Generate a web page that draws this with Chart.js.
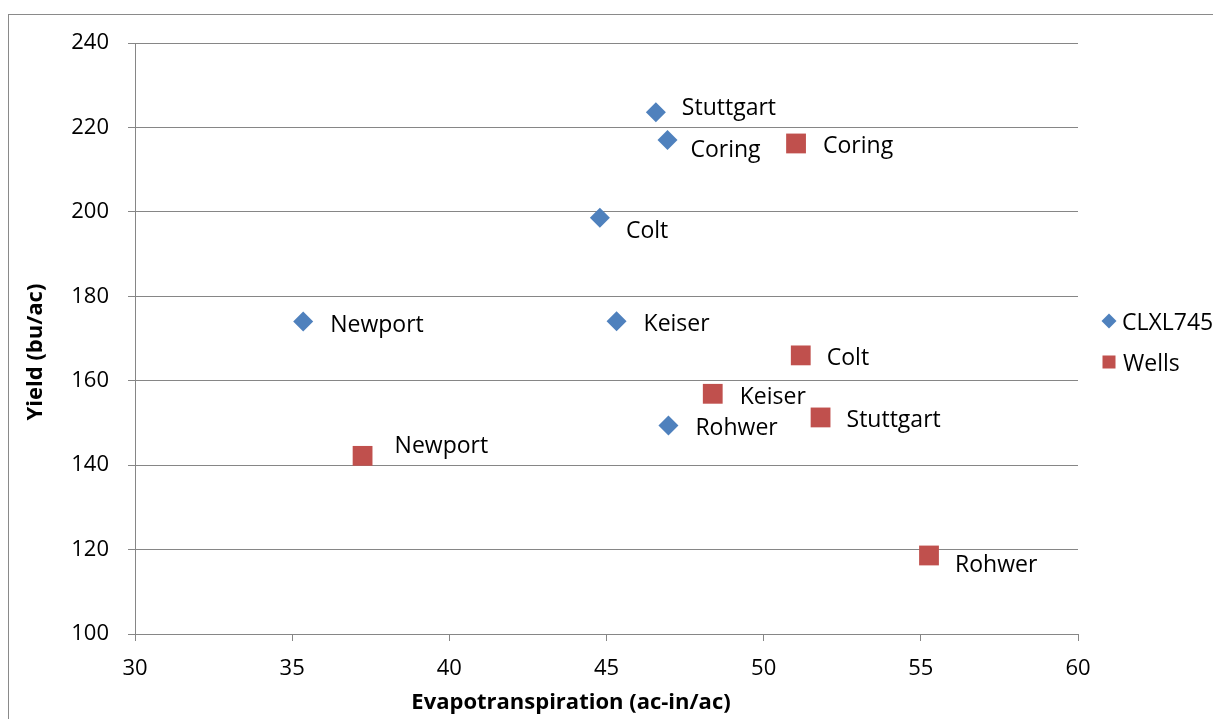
<!DOCTYPE html>
<html><head><meta charset="utf-8">
<script src="https://cdn.jsdelivr.net/npm/chart.js@4/dist/chart.umd.min.js"></script>
<style>html,body{margin:0;padding:0;background:#fff}#wrap{position:relative;width:1213px;height:719px}</style>
</head><body><div id="wrap"><canvas id="c"></canvas></div>
<script>
// ---- data ----
const locations = ['Stuttgart', 'Coring', 'Colt', 'Newport', 'Keiser', 'Rohwer'];
const seriesNames = ['CLXL745', 'Wells'];
const clxlET    = [46.57, 46.94, 44.79, 35.35, 45.32, 46.97];
const clxlYield = [223.6, 217.0, 198.6, 174.0, 174.1, 149.4];
const wellsET    = [51.81, 51.03, 51.18, 37.24, 48.38, 55.26];
const wellsYield = [151.3, 216.2, 166.0, 142.2, 156.9, 118.6];
const xTickValues = [30, 35, 40, 45, 50, 55, 60];
const yTickValues = [100, 120, 140, 160, 180, 200, 220, 240];
const xTitle = 'Evapotranspiration (ac-in/ac)';
const yTitle = 'Yield (bu/ac)';

// label placement nudges (pixels, relative to each point) – styling only
const clxlLabelDx = [26, 23, 26, 27, 27, 27];
const clxlLabelDy = [3, 17, 20, 10, 10, 10];
const wellsLabelDx = [26, 27, 26, 32, 27, 26];
const wellsLabelDy = [10, 10, 10, -3, 10, 17];

const BLUE = '#4F81BD', RED = '#C0504D', GRID = '#868686';
const FONT = '"Open Sans"';
const FS = 22;
const LFS = 23;

const toPts = (xs, ys) => xs.map((x, i) => ({x: x, y: ys[i]}));

const decor = {
  id: 'decor',
  beforeDraw(chart) {
    const ctx = chart.ctx;
    ctx.save();
    ctx.fillStyle = '#fff';
    ctx.fillRect(0, 0, chart.width, chart.height);
    ctx.strokeStyle = '#8a8a8a';
    ctx.lineWidth = 1;
    ctx.strokeRect(8.5, 14.5, chart.width + 20, chart.height + 20);
    ctx.restore();
  },
  afterDraw(chart) {
    const ctx = chart.ctx;
    const xs = chart.scales.x, ys = chart.scales.y;
    ctx.save();
    ctx.fillStyle = '#000';
    ctx.font = LFS + 'px ' + FONT;
    ctx.textAlign = 'left';
    ctx.textBaseline = 'alphabetic';
    const sets = [[clxlET, clxlYield, clxlLabelDx, clxlLabelDy], [wellsET, wellsYield, wellsLabelDx, wellsLabelDy]];
    sets.forEach(([ex, yy, dx, dy]) => {
      locations.forEach((name, i) => {
        const px = xs.getPixelForValue(ex[i]);
        const py = ys.getPixelForValue(yy[i]);
        ctx.fillText(name, px + dx[i], py + dy[i]);
      });
    });
    // axis titles
    ctx.font = 'bold 22px ' + FONT;
    ctx.textAlign = 'center';
    ctx.textBaseline = 'alphabetic';
    ctx.fillText(xTitle, 571, 709);
    ctx.save();
    ctx.translate(42, 352);
    ctx.rotate(-Math.PI / 2);
    ctx.fillText(yTitle, 0, 0);
    ctx.restore();
    // legend
    const lx = 1109;
    const l1y = 321, l2y = 362;
    ctx.fillStyle = BLUE;
    ctx.beginPath();
    ctx.moveTo(lx, l1y - 7.5); ctx.lineTo(lx + 7.5, l1y); ctx.lineTo(lx, l1y + 7.5); ctx.lineTo(lx - 7.5, l1y); ctx.closePath();
    ctx.fill();
    ctx.fillStyle = RED;
    ctx.fillRect(lx - 6.5, l2y - 6.5, 13, 13);
    ctx.fillStyle = '#000';
    ctx.font = LFS + 'px ' + FONT;
    ctx.textAlign = 'left';
    ctx.textBaseline = 'alphabetic';
    ctx.fillText(seriesNames[0], 1122, l1y + 9);
    ctx.fillText(seriesNames[1], 1123, l2y + 9);
    ctx.restore();
  }
};

new Chart(document.getElementById('c'), {
  type: 'scatter',
  data: {
    datasets: [
      {label: seriesNames[0], data: toPts(clxlET, clxlYield), pointStyle: 'rectRot', radius: 10, hoverRadius: 10,
       backgroundColor: BLUE, borderColor: BLUE, borderWidth: 0},
      {label: seriesNames[1], data: toPts(wellsET, wellsYield), pointStyle: 'rect', radius: 14, hoverRadius: 14,
       backgroundColor: RED, borderColor: RED, borderWidth: 0}
    ]
  },
  options: {
    responsive: true,
    maintainAspectRatio: false,
    animation: false,
    events: [],
    layout: {padding: {left: 0, right: 135, top: 43, bottom: 0}},
    plugins: {legend: {display: false}, tooltip: {enabled: false}},
    scales: {
      x: {
        type: 'linear', min: 30, max: 60,
        afterBuildTicks: s => { s.ticks = xTickValues.map(v => ({value: v})); },
        afterFit: s => { s.height = 85; },
        grid: {display: true, drawOnChartArea: false, drawTicks: true, tickLength: 7, color: GRID, lineWidth: 1},
        border: {display: true, color: GRID, width: 1},
        ticks: {color: '#000', font: {family: FONT, size: FS}, padding: 15, maxRotation: 0, autoSkip: false},
        title: {display: false}
      },
      y: {
        type: 'linear', min: 100, max: 240,
        afterBuildTicks: s => { s.ticks = yTickValues.map(v => ({value: v})); },
        afterFit: s => { s.width = 135; },
        grid: {display: true, drawTicks: true, tickLength: 7, color: GRID, lineWidth: 1},
        border: {display: true, color: GRID, width: 1},
        ticks: {color: '#000', font: {family: FONT, size: FS}, padding: 19},
        title: {display: false}
      }
    }
  },
  plugins: [decor]
});
</script></body></html>
